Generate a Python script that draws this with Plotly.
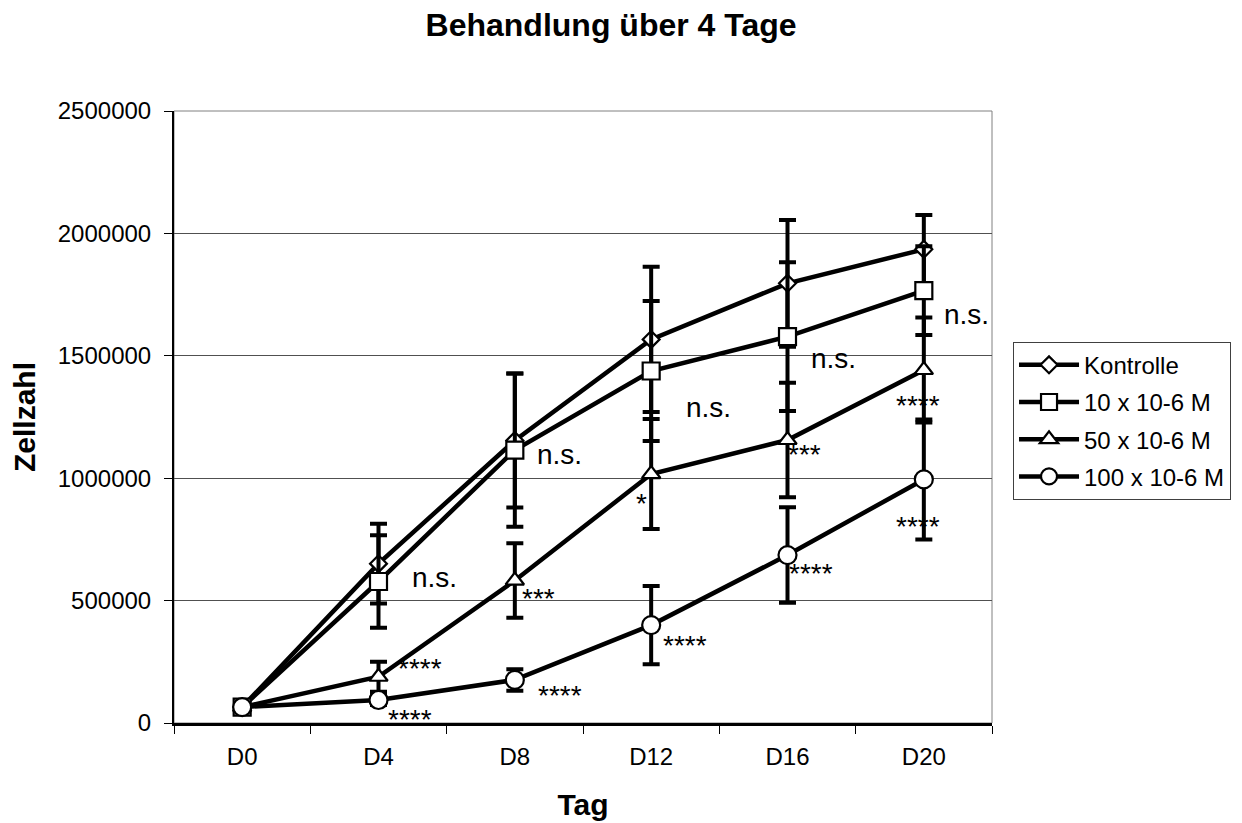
import plotly.graph_objects as go

# Tage (Kategorien)
tage = ["D0", "D4", "D8", "D12", "D16", "D20"]

# Mittelwerte der Zellzahl je Gruppe
kontrolle = [65000, 651000, 1154000, 1567000, 1796000, 1935000]
konz_10 = [65000, 578000, 1115000, 1438000, 1578000, 1766000]
konz_50 = [65000, 189000, 582000, 1017000, 1156000, 1442000]
konz_100 = [65000, 94000, 176000, 400000, 686000, 995000]

# Standardabweichungen
sd_kontrolle = [10000, 163000, 274000, 297000, 259000, 140000]
sd_10 = [10000, 189000, 313000, 286000, 304000, 181000]
sd_50 = [10000, 61000, 152000, 225000, 234000, 214000]
sd_100 = [10000, 20000, 44000, 160000, 195000, 245000]

gruppen = ["Kontrolle", "10 x 10-6 M", "50 x 10-6 M", "100 x 10-6 M"]

# Signifikanz-Beschriftungen: Text, x (Kategorie-Index), y (Zellzahl)
sig_text = ["n.s.", "****", "****", "n.s.", "***", "****", "n.s.", "*", "****",
            "n.s.", "***", "****", "n.s.", "****", "****"]
sig_x = [1.408, 1.306, 1.232, 2.325, 2.171, 2.333, 3.418, 2.927, 3.249,
         4.335, 4.122, 4.174, 5.310, 4.958, 4.958]
sig_y = [596000, 229000, 24500, 1095000, 515000, 122500, 1287000, 903000, 323000,
         1487000, 1107000, 617000, 1667000, 1307000, 809000]

FONT = "Arial, 'Liberation Sans', sans-serif"

serien = [
    (gruppen[0], kontrolle, sd_kontrolle, "diamond", 13),
    (gruppen[1], konz_10, sd_10, "square", 17),
    (gruppen[2], konz_50, sd_50, "triangle-up", 16),
    (gruppen[3], konz_100, sd_100, "circle", 18),
]

fig = go.Figure()
for name, werte, sd, symbol, size in serien:
    fig.add_trace(go.Scatter(
        x=tage, y=werte, name=name, legendgroup=name, mode="lines+markers",
        line=dict(color="black", width=4.5),
        marker=dict(symbol=symbol, size=size, color="white",
                    line=dict(color="black", width=2.2)),
        error_y=dict(type="data", array=sd, visible=True,
                     color="black", thickness=4, width=8.5),
    ))

for t, x, y in zip(sig_text, sig_x, sig_y):
    stars = t.startswith("*")
    fig.add_annotation(
        x=x, y=y, xref="x", yref="y", text=t, showarrow=False,
        xanchor="center", yanchor="middle",
        yshift=-2 if stars else 0,
        font=dict(family=FONT, size=28, color="black"),
    )

# Rahmen der Zeichenfläche
fig.add_shape(type="rect", xref="paper", yref="paper", x0=0, y0=0, x1=1, y1=1,
              line=dict(color="#808080", width=1), layer="below")

fig.update_layout(
    width=1242, height=823,
    margin=dict(l=174, r=250, t=111, b=100, autoexpand=False),
    paper_bgcolor="white", plot_bgcolor="white",
    title=dict(text="<b>Behandlung über 4 Tage</b>", x=0.492, xanchor="center",
               y=0.970, yanchor="middle",
               font=dict(family=FONT, size=32, color="black")),
    font=dict(family=FONT, color="black"),
    showlegend=True,
    legend=dict(x=1.0257, y=0.623, xanchor="left", yanchor="top",
                bordercolor="#404040", borderwidth=1, bgcolor="white",
                font=dict(family=FONT, size=24, color="black"),
                tracegroupgap=3, itemwidth=60),
)

fig.update_xaxes(
    type="category", range=[-0.5, 5.5], automargin=False,
    showline=True, linecolor="black", linewidth=3,
    ticks="outside", tickson="boundaries", ticklen=8, tickcolor="black",
    ticklabelstandoff=10,
    tickfont=dict(family=FONT, size=24, color="black"),
    title=dict(text="<b>Tag</b>", font=dict(family=FONT, size=30, color="black"),
               standoff=26),
    showgrid=False, zeroline=False,
)
fig.update_yaxes(
    range=[0, 2500000], dtick=500000, tickformat="d", automargin=False,
    showline=True, linecolor="black", linewidth=2,
    ticks="outside", ticklen=8, tickcolor="black",
    ticklabelstandoff=8,
    tickfont=dict(family=FONT, size=24, color="black"),
    title=dict(text="<b>Zellzahl</b>", font=dict(family=FONT, size=30, color="black"),
               standoff=13),
    showgrid=True, gridcolor="#505050", gridwidth=1, zeroline=False,
)

fig.write_html("out.html")
